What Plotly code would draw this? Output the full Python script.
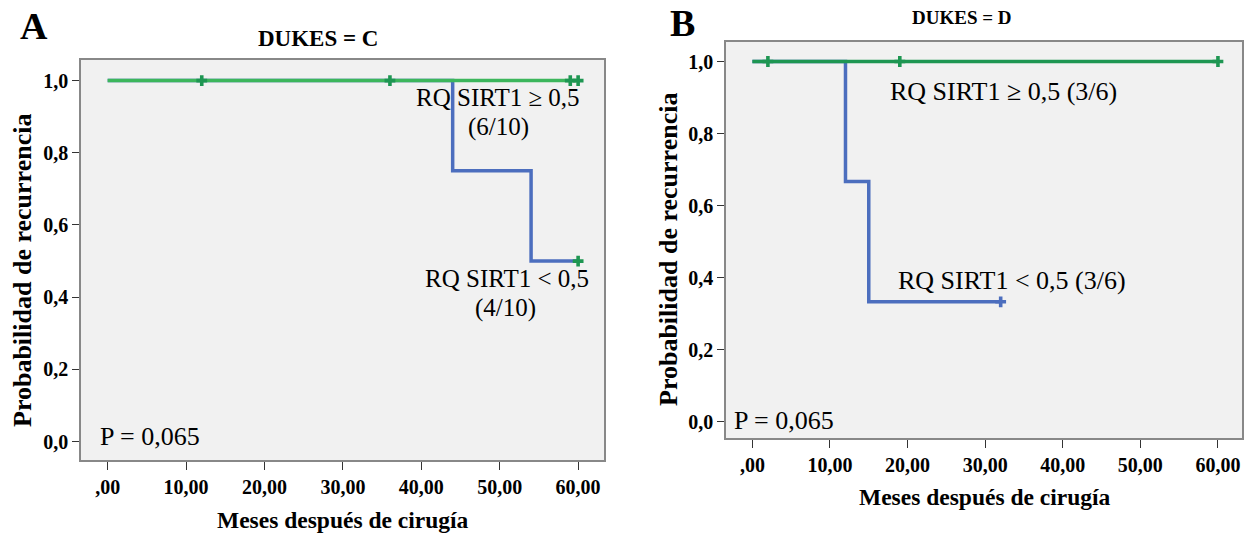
import plotly.graph_objects as go

# ---------------- data ----------------
x_tick_vals = [0, 10, 20, 30, 40, 50, 60]
x_tick_text = [",00", "10,00", "20,00", "30,00", "40,00", "50,00", "60,00"]
y_tick_vals = [0.0, 0.2, 0.4, 0.6, 0.8, 1.0]
y_tick_text = ["0,0", "0,2", "0,4", "0,6", "0,8", "1,0"]

# Panel A (DUKES = C)
a_ge_t = [0, 60]
a_ge_s = [1.0, 1.0]
a_ge_cens_t = [12, 36, 59, 60]
a_ge_cens_s = [1.0, 1.0, 1.0, 1.0]
a_lt_t = [0, 44, 54, 60]
a_lt_s = [1.0, 0.75, 0.5, 0.5]
a_lt_cens_t = [60]
a_lt_cens_s = [0.5]

# Panel B (DUKES = D)
b_ge_t = [0, 60]
b_ge_s = [1.0, 1.0]
b_ge_cens_t = [2, 19, 60]
b_ge_cens_s = [1.0, 1.0, 1.0]
b_lt_t = [0, 12, 15, 32]
b_lt_s = [1.0, 0.667, 0.333, 0.333]
b_lt_cens_t = [32]
b_lt_cens_s = [0.333]

# ---------------- styling ----------------
W, H = 1245, 533
GREEN_A = "rgb(60,182,92)"
GREEN_B = "rgb(30,150,82)"
BLUE = "rgb(76,110,190)"
SERIF = "'Liberation Serif', 'Times New Roman', Times, serif"

def px(x):
    return x / W

def py(y):
    return 1 - y / H

fig = go.Figure()

def step(t, s, color, xa, ya):
    fig.add_trace(go.Scatter(x=t, y=s, mode="lines", line=dict(color=color, width=3.5, shape="hv"),
                             xaxis=xa, yaxis=ya, showlegend=False, hoverinfo="skip"))

def cens(t, s, color, xa, ya):
    fig.add_trace(go.Scatter(x=t, y=s, mode="markers",
                             marker=dict(symbol="cross", size=9, color=color, line=dict(width=0)),
                             xaxis=xa, yaxis=ya, showlegend=False, hoverinfo="skip"))

# panel A
step(a_lt_t, a_lt_s, BLUE, "x", "y")
step(a_ge_t, a_ge_s, GREEN_A, "x", "y")
cens(a_ge_cens_t, a_ge_cens_s, GREEN_B, "x", "y")
cens(a_lt_cens_t, a_lt_cens_s, GREEN_B, "x", "y")
# panel B
step(b_lt_t, b_lt_s, BLUE, "x2", "y2")
step(b_ge_t, b_ge_s, GREEN_B, "x2", "y2")
cens(b_ge_cens_t, b_ge_cens_s, GREEN_B, "x2", "y2")
cens(b_lt_cens_t, b_lt_cens_s, BLUE, "x2", "y2")

tickfont = dict(family=SERIF, size=20, color="black", weight="bold")

def xaxis(domain, rng, anchor):
    return dict(domain=domain, range=rng, anchor=anchor, tickvals=x_tick_vals, ticktext=x_tick_text,
                ticks="outside", ticklen=8, tickwidth=1.3, tickcolor="#333",
                showline=True, linecolor="#888", linewidth=1.5, mirror=True,
                showgrid=False, zeroline=False, tickfont=tickfont, fixedrange=True)

def yaxis(domain, rng, anchor):
    return dict(domain=domain, range=rng, anchor=anchor, tickvals=y_tick_vals, ticktext=y_tick_text,
                ticks="outside", ticklen=7, tickwidth=1.3, tickcolor="#333",
                showline=True, linecolor="#888", linewidth=1.5, mirror=True,
                showgrid=False, zeroline=False, tickfont=tickfont, fixedrange=True)

ann = []

def text(x, y, s, size, bold=False, xanchor="center", angle=0):
    ann.append(dict(x=px(x), y=py(y), xref="paper", yref="paper", text=s, showarrow=False,
                    xanchor=xanchor, yanchor="middle", textangle=angle,
                    font=dict(family=SERIF, size=size, color="black", weight="bold" if bold else "normal")))

# Panel letters and titles
text(34, 26, "A", 38, bold=True)
text(682, 23, "B", 38, bold=True)
text(318, 38, "DUKES = C", 23, bold=True)
text(962, 18, "DUKES = D", 19, bold=True)

# Axis titles
text(22, 271, "Probabilidad de recurrencia", 26, bold=True, angle=-90)
text(343, 520, "Meses después de cirugía", 23.5, bold=True)
text(668, 250, "Probabilidad de recurrencia", 26, bold=True, angle=-90)
text(985, 497, "Meses después de cirugía", 23.5, bold=True)

# Panel A annotations
text(498, 97, "RQ SIRT1 ≥ 0,5", 25)
text(498, 127, "(6/10)", 25)
text(507, 278, "RQ SIRT1 &lt; 0,5", 25)
text(505, 308, "(4/10)", 25)
text(98, 436, "P = 0,065", 26, xanchor="left")

# Panel B annotations
text(1004, 92, "RQ SIRT1 ≥ 0,5 (3/6)", 26)
text(1012, 280, "RQ SIRT1 &lt; 0,5 (3/6)", 26)
text(732, 420, "P = 0,065", 26, xanchor="left")

fig.update_layout(
    width=W, height=H, margin=dict(l=0, r=0, t=0, b=0),
    paper_bgcolor="white", plot_bgcolor="#f1f1f1",
    font=dict(family=SERIF),
    xaxis=xaxis([px(81), px(604)], [-3.4, 63.3], "y"),
    yaxis=yaxis([py(460), py(60)], [-0.051, 1.057], "x"),
    xaxis2=xaxis([px(726), px(1242)], [-3.4, 63.1], "y2"),
    yaxis2=yaxis([py(438.3), py(41.7)], [-0.046, 1.055], "x2"),
    annotations=ann,
)

fig.write_html("out.html")
